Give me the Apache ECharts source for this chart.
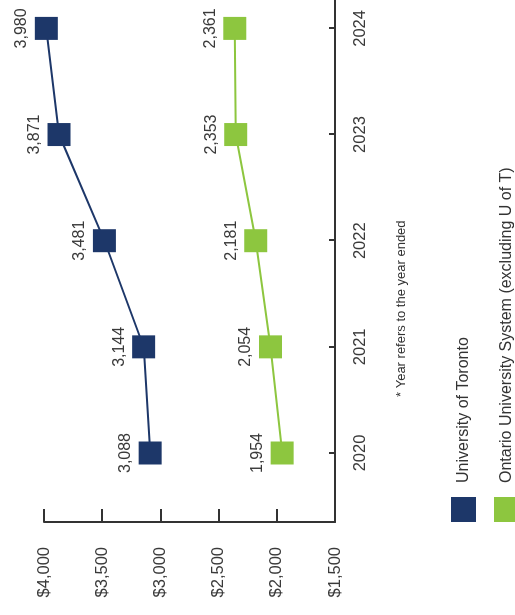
<!DOCTYPE html>
<html>
<head>
<meta charset="utf-8">
<script src="https://cdn.jsdelivr.net/npm/echarts@6/dist/echarts.min.js"></script>
<style>
  html, body { margin: 0; padding: 0; width: 515px; height: 615px; overflow: hidden; background: #fff; }
  #c { position: absolute; left: 0; top: 0; width: 700px; height: 560px;
       transform-origin: 0 0; transform: translate(0px, 615px) rotate(-90deg); }
</style>
</head>
<body>
<div id="c"></div>
<script>
const years = [2020, 2021, 2022, 2023, 2024];
const uoftValues = [3088, 3144, 3481, 3871, 3980];
const ontarioValues = [1954, 2054, 2181, 2353, 2361];
const valueTicks = [1500, 2000, 2500, 3000, 3500, 4000];
const seriesNames = ['University of Toronto', 'Ontario University System (excluding U of T)'];
const noteText = '* Year refers to the year ended';

const FONT = '"Liberation Sans", Arial, sans-serif';
const TXT = '#3a3a3a';

const chart = echarts.init(document.getElementById('c'), null, { renderer: 'canvas' });

function pairs(vals) { return years.map((y, i) => [y, vals[i]]); }
function fmtNum(v) { return v.toLocaleString('en-US'); }

const labelCfg = {
  show: true, position: 'top', distance: 5,
  fontFamily: FONT, fontSize: 16, color: TXT,
  formatter: p => fmtNum(p.value[1])
};

chart.setOption({
  animation: false,
  backgroundColor: '#fff',
  grid: { left: 93, top: 44, right: 44.4, bottom: 225, containLabel: false },
  xAxis: {
    type: 'value', min: 2019.35, max: 2024.65,
    axisLine: { show: true, onZero: false, lineStyle: { color: '#333', width: 2 } },
    axisTick: { show: true, inside: true, length: 6, customValues: years, lineStyle: { color: '#333', width: 2 } },
    axisLabel: { show: true, customValues: years, margin: 17, fontFamily: FONT, fontSize: 16.5, color: TXT,
                 formatter: v => String(Math.round(v)) },
    splitLine: { show: false }
  },
  yAxis: {
    type: 'value', min: valueTicks[0], max: valueTicks[valueTicks.length - 1], interval: 500,
    axisLine: { show: true, lineStyle: { color: '#333', width: 2 } },
    axisTick: { show: true, inside: true, length: 13, lineStyle: { color: '#333', width: 2 } },
    axisLabel: { margin: 25, fontFamily: FONT, fontSize: 16.5, color: TXT,
                 formatter: v => '$' + fmtNum(v) },
    splitLine: { show: false }
  },
  legend: {
    orient: 'vertical', left: 93, top: 451, padding: 0,
    itemWidth: 25, itemHeight: 25, itemGap: 18, icon: 'rect',
    textStyle: { fontFamily: FONT, fontSize: 16, color: '#333', padding: [0, 0, 0, 9] },
    data: seriesNames
  },
  graphic: [{
    type: 'text', left: 308 - 90, top: 395,
    style: { text: noteText, fontFamily: FONT, fontSize: 13, fill: '#333' }
  }],
  series: [
    {
      name: seriesNames[0], type: 'line', data: pairs(uoftValues),
      symbol: 'rect', symbolSize: 23,
      itemStyle: { color: '#1d3769' },
      lineStyle: { color: '#1d3769', width: 2 },
      label: labelCfg
    },
    {
      name: seriesNames[1], type: 'line', data: pairs(ontarioValues),
      symbol: 'rect', symbolSize: 23,
      itemStyle: { color: '#8dc63f' },
      lineStyle: { color: '#8dc63f', width: 2 },
      label: labelCfg
    }
  ]
});
</script>
</body>
</html>
